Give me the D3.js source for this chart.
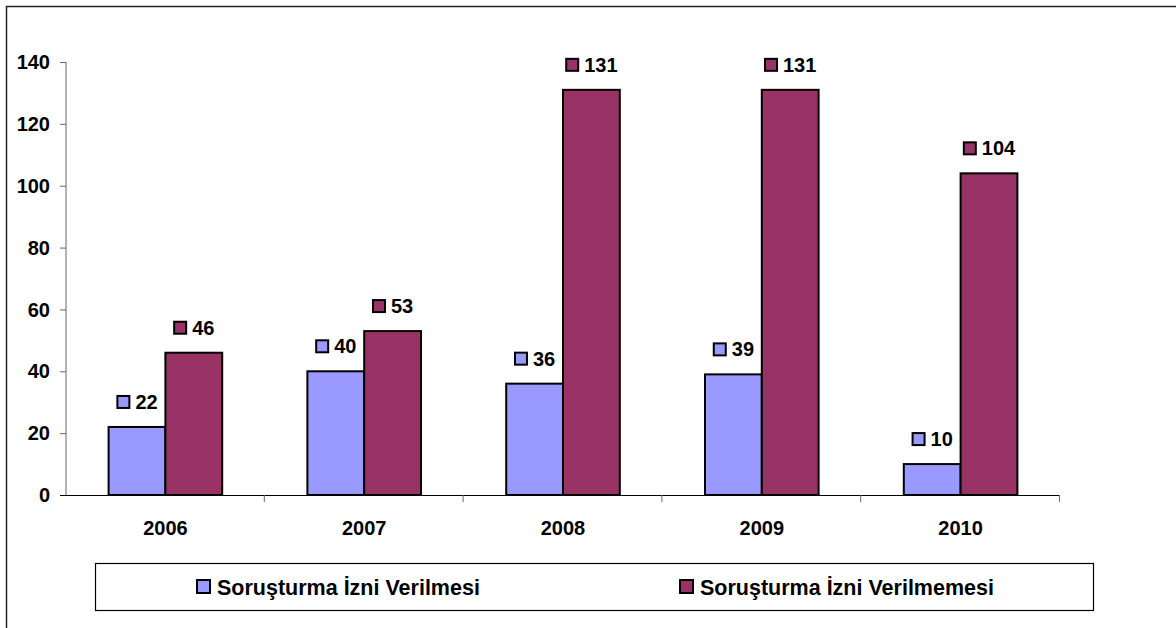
<!DOCTYPE html>
<html lang="tr">
<head>
  <meta charset="utf-8">
  <title>Soruşturma İzni</title>
  <script src="https://d3js.org/d3.v7.min.js"></script>
  <style>
    body { margin: 0; background: #fff; }
    text { font-family: "Liberation Sans", Arial, sans-serif; font-weight: bold; fill: #000; }
  </style>
</head>
<body>
<script>
  // data
  var years = ["2006", "2007", "2008", "2009", "2010"];
  var seriesNames = ["Soruşturma İzni Verilmesi", "Soruşturma İzni Verilmemesi"];
  var verilmesi = [22, 40, 36, 39, 10];
  var verilmemesi = [46, 53, 131, 131, 104];
  var yTicks = [0, 20, 40, 60, 80, 100, 120, 140];
  var colors = ["#9999ff", "#993366"];

  var w = 1176, h = 628;
  var plotLeft = 66, plotRight = 1060, plotTop = 62, plotBottom = 495;

  var svg = d3.select("body").append("svg")
    .attr("width", w)
    .attr("height", h);

  // outer chart frame (runs off the right / bottom edge)
  svg.append("rect")
    .attr("x", 6.5).attr("y", 6.5)
    .attr("width", w + 20).attr("height", h + 20)
    .attr("fill", "none")
    .attr("stroke", "#222")
    .attr("stroke-width", 1.5);

  var x = d3.scaleBand().domain(years).range([plotLeft, plotRight]);
  var y = d3.scaleLinear().domain([0, 140]).range([plotBottom, plotTop]);

  // gap width 150% -> each bar = band / 3.5
  var barW = x.bandwidth() / 3.5;
  var xs = d3.scaleBand().domain([0, 1]).range([-barW, barW]);

  // y axis
  svg.append("line")
    .attr("x1", plotLeft).attr("x2", plotLeft)
    .attr("y1", plotTop).attr("y2", plotBottom)
    .attr("stroke", "#666").attr("stroke-width", 1);

  svg.selectAll(".ytick").data(yTicks).enter().append("line")
    .attr("x1", plotLeft - 6).attr("x2", plotLeft)
    .attr("y1", function(d) { return y(d) + 0.5; })
    .attr("y2", function(d) { return y(d) + 0.5; })
    .attr("stroke", "#666");

  svg.selectAll(".ylab").data(yTicks).enter().append("text")
    .attr("x", 50)
    .attr("y", function(d) { return y(d); })
    .attr("dy", "0.36em")
    .attr("text-anchor", "end")
    .style("font-size", "20px")
    .text(function(d) { return d; });

  // bars
  var rows = [];
  years.forEach(function(yr, i) {
    rows.push({ year: yr, s: 0, v: verilmesi[i] });
    rows.push({ year: yr, s: 1, v: verilmemesi[i] });
  });

  svg.selectAll("rect.bar").data(rows).enter().append("rect")
    .attr("class", "bar")
    .attr("x", function(d) { return x(d.year) + x.bandwidth() / 2 + xs(d.s); })
    .attr("y", function(d) { return y(d.v); })
    .attr("width", barW)
    .attr("height", function(d) { return plotBottom - y(d.v); })
    .attr("fill", function(d) { return colors[d.s]; })
    .attr("stroke", "#000")
    .attr("stroke-width", 2);

  // x axis
  svg.append("line")
    .attr("x1", plotLeft - 6).attr("x2", plotRight)
    .attr("y1", plotBottom + 0.5).attr("y2", plotBottom + 0.5)
    .attr("stroke", "#000").attr("stroke-width", 1.2);

  var bounds = years.map(function(yr) { return x(yr); }).concat([plotRight]);
  svg.selectAll(".xtick").data(bounds.slice(1)).enter().append("line")
    .attr("x1", function(d) { return d - 0.5; })
    .attr("x2", function(d) { return d - 0.5; })
    .attr("y1", plotBottom).attr("y2", plotBottom + 7)
    .attr("stroke", "#666");

  svg.selectAll(".xlab").data(years).enter().append("text")
    .attr("x", function(d) { return x(d) + x.bandwidth() / 2; })
    .attr("y", 535)
    .attr("text-anchor", "middle")
    .style("font-size", "20px")
    .text(function(d) { return d; });

  // data labels with legend key
  var labels = svg.selectAll("g.lbl").data(rows).enter().append("g")
    .attr("class", "lbl");

  labels.append("text")
    .attr("y", function(d) { return y(d.v) - 18; })
    .style("font-size", "20px")
    .text(function(d) { return d.v; });

  labels.each(function(d) {
    var g = d3.select(this);
    var t = g.select("text");
    var tw = t.node().getComputedTextLength();
    var total = 13 + 6 + tw;
    var cx = x(d.year) + x.bandwidth() / 2 + xs(d.s) + barW / 2;
    var x0 = cx - total / 2;
    g.insert("rect", "text")
      .attr("x", x0 + 1).attr("y", y(d.v) - 31)
      .attr("width", 12).attr("height", 12)
      .attr("fill", colors[d.s])
      .attr("stroke", "#000").attr("stroke-width", 2);
    t.attr("x", x0 + 19);
  });

  // legend
  svg.append("rect")
    .attr("x", 95.5).attr("y", 563.5)
    .attr("width", 998).attr("height", 47)
    .attr("fill", "#fff")
    .attr("stroke", "#000").attr("stroke-width", 1.2);

  var legX = [197, 680];
  var leg = svg.selectAll("g.leg").data(seriesNames).enter().append("g")
    .attr("transform", function(d, i) { return "translate(" + legX[i] + ",587)"; });

  leg.append("rect")
    .attr("x", 0).attr("y", -7)
    .attr("width", 13).attr("height", 13)
    .attr("fill", function(d, i) { return colors[i]; })
    .attr("stroke", "#000").attr("stroke-width", 2);

  leg.append("text")
    .attr("x", 20).attr("dy", "0.36em")
    .style("font-size", "21.5px")
    .text(function(d) { return d; });
</script>
</body>
</html>
